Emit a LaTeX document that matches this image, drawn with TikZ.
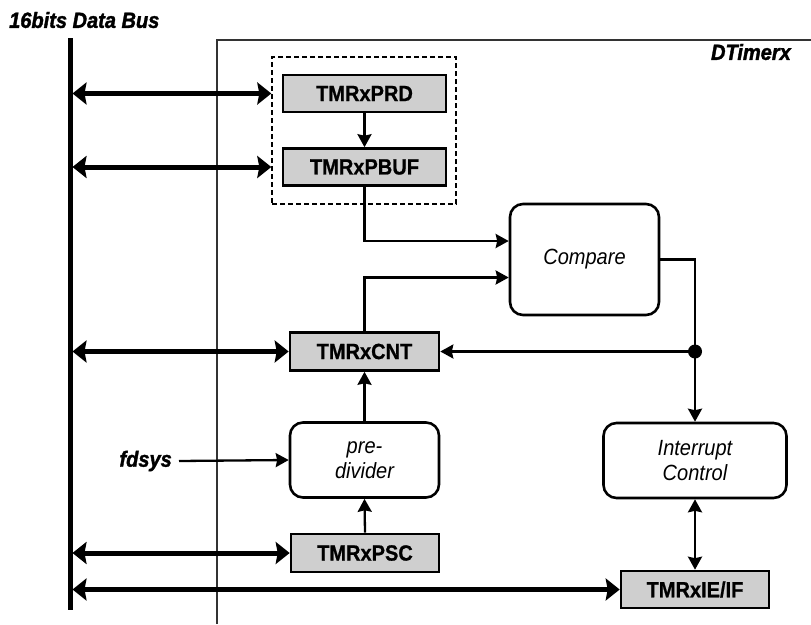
\documentclass[tikz,border=0pt]{standalone}
\usepackage{fontspec}
\setmainfont[FakeStretch=0.91, BoldFeatures={FakeBold=0.8}, BoldItalicFeatures={FakeBold=1.6}]{Liberation Sans}
\usetikzlibrary{arrows.meta}
\tikzset{
  reg/.style={draw, line width=2.6pt, fill=black!19, minimum height=37pt, inner sep=0pt,
              font=\fontsize{22}{26}\selectfont\bfseries},
  blk/.style={draw, line width=2.6pt, rounded corners=13pt, fill=white, inner sep=0pt, align=center,
              font=\fontsize{22}{25}\selectfont\itshape},
  lbl/.style={inner sep=0pt, font=\fontsize{22}{26}\selectfont\bfseries\itshape},
  busarrow/.style={line width=5pt, {Stealth[length=14pt,width=22pt,inset=2pt]}-{Stealth[length=14pt,width=22pt,inset=2pt]}},
  sig/.style={line width=2.3pt, -{Stealth[length=13pt,width=14pt,inset=1.5pt]}},
  sigboth/.style={line width=2.3pt, {Stealth[length=13pt,width=14pt,inset=1.5pt]}-{Stealth[length=13pt,width=14pt,inset=1.5pt]}},
  wire/.style={line width=2.3pt},
}
\begin{document}
\begin{tikzpicture}[x=1pt,y=-1pt]
\useasboundingbox (0,0) rectangle (811,624);
% frame of DTimerx
\draw[line width=1.2pt, black!80] (217,624) -- (217,40) -- (811,40);
% data bus
\coordinate (busT) at (70,38);
\coordinate (busB) at (70,610);
\draw[line width=5pt] (busT) -- (busB);
% titles
\node[lbl, anchor=west] (title) at (9,20) {16bits Data Bus};
\node[lbl, anchor=east] (dtim) at (791,52) {DTimerx};
% dashed group
\node[draw, dash pattern=on 5pt off 3pt, line width=1.4pt, minimum width=184pt, minimum height=147pt, inner sep=0pt] (grp) at (364,130.5) {};
% registers
\node[reg, minimum width=163pt] (prd) at (364.5,93.5) {TMRxPRD};
\node[reg, minimum width=163pt] (pbuf) at (364.5,167) {TMRxPBUF};
\node[reg, minimum width=149pt, minimum height=38pt] (cnt) at (364.5,351.5) {TMRxCNT};
\node[reg, minimum width=148pt, minimum height=38pt] (psc) at (365,553) {TMRxPSC};
\node[reg, minimum width=148pt] (ief) at (695,589.5) {TMRxIE/IF};
% blocks
\node[blk, minimum width=149pt, minimum height=111pt] (cmp) at (584.5,259.5) {Compare};
\node[blk, minimum width=149pt, minimum height=75pt] (pre) at (364.5,460) {pre-\\divider};
\node[blk, minimum width=183pt, minimum height=75pt] (intr) at (695,460.5) {Interrupt\\Control};
% fdsys
\node[lbl, anchor=east] (fds) at (172,461) {fdsys};
\draw[sig] ([xshift=7pt]fds.east) -- (pre.west);
% bus arrows
\draw[busarrow, shorten <=2.5pt] (busT |- prd.west) -- (grp.west |- prd.west);
\draw[busarrow, shorten <=2.5pt] (busT |- pbuf.west) -- (grp.west |- pbuf.west);
\draw[busarrow, shorten <=2.5pt] (busT |- cnt.west) -- (cnt.west);
\draw[busarrow, shorten <=2.5pt] (busT |- psc.west) -- (psc.west);
\draw[busarrow, shorten <=2.5pt] (busT |- ief.west) -- (ief.west);
% internal signals
\draw[sig] (prd.south) -- (pbuf.north);
\draw[sig] (pbuf.south) |- ([yshift=18.5pt]cmp.west);
\draw[sig] (cnt.north) |- ([yshift=-18pt]cmp.west);
\coordinate (dot) at (695,351.5);
\draw[wire] (cmp.east) -| (dot);
\draw[sig] (dot) -- (intr.north);
\draw[sig] (dot) -- (cnt.east);
\fill (dot) circle (7pt);
\draw[sig] (pre.north) -- (cnt.south);
\draw[sig] (psc.north) -- (pre.south);
\draw[sigboth] (intr.south) -- (ief.north);
\end{tikzpicture}
\end{document}
